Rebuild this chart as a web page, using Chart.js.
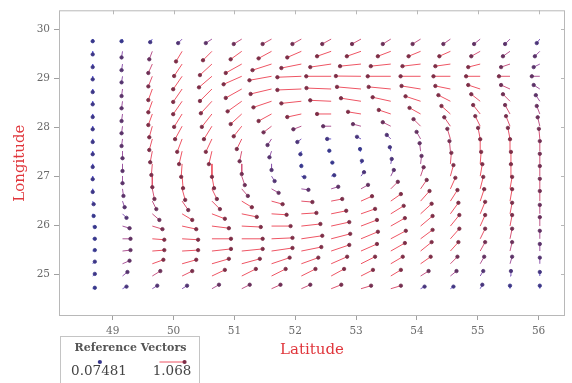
<!DOCTYPE html>
<html><head><meta charset="utf-8">
<script src="https://cdn.jsdelivr.net/npm/chart.js@4.4.1/dist/chart.umd.min.js"></script>
<style>html,body{margin:0;padding:0;background:#fff;}canvas{display:block}</style>
</head><body>
<canvas id="c" width="572" height="383"></canvas>
<script>
// ---- data ----
const lonGrid = [48.67, 49.16, 49.65, 50.14, 50.63, 51.12, 51.61, 52.10, 52.59, 53.08, 53.57, 54.06, 54.55, 55.04, 55.53, 56.02];
// rows listed from top (north) to bottom (south)
const latGrid = [29.80, 29.55, 29.29, 29.04, 28.78, 28.53, 28.27, 28.02, 27.76, 27.51, 27.25, 27.00, 26.74, 26.49, 26.23, 25.98, 25.72, 25.47, 25.21, 24.96, 24.70];
const xTicks = [49, 50, 51, 52, 53, 54, 55, 56];
const yTicks = [25, 26, 27, 28, 29, 30];
const uRows = [
 [0, -0.04, -0.09, -0.17, -0.26, -0.34, -0.38, -0.38, -0.38, -0.38, -0.34, -0.34, -0.30, -0.26, -0.21, -0.13],
 [0, -0.04, -0.13, -0.26, -0.38, -0.47, -0.55, -0.60, -0.60, -0.60, -0.55, -0.51, -0.47, -0.38, -0.30, -0.21],
 [0, -0.04, -0.17, -0.34, -0.51, -0.68, -0.81, -0.85, -0.89, -0.89, -0.85, -0.77, -0.64, -0.51, -0.38, -0.26],
 [0, -0.04, -0.17, -0.38, -0.55, -0.77, -0.94, -1.02, -1.06, -1.068, -0.98, -0.85, -0.72, -0.60, -0.47, -0.34],
 [0, -0.04, -0.17, -0.38, -0.51, -0.68, -0.89, -1.02, -1.05, -1.02, -0.94, -0.81, -0.64, -0.51, -0.38, -0.26],
 [0, -0.04, -0.17, -0.38, -0.47, -0.60, -0.77, -0.85, -0.89, -0.85, -0.77, -0.64, -0.51, -0.38, -0.30, -0.17],
 [0, -0.04, -0.17, -0.34, -0.43, -0.47, -0.55, -0.60, -0.60, -0.55, -0.51, -0.47, -0.38, -0.30, -0.21, -0.13],
 [0, -0.04, -0.13, -0.30, -0.34, -0.34, -0.34, -0.34, -0.34, -0.34, -0.34, -0.30, -0.26, -0.21, -0.17, -0.09],
 [0, -0.04, -0.13, -0.21, -0.26, -0.21, -0.17, -0.17, -0.17, -0.17, -0.17, -0.17, -0.13, -0.09, -0.09, -0.04],
 [0, 0, -0.09, -0.13, -0.13, -0.09, -0.09, -0.04, -0.08, -0.04, -0.04, -0.04, -0.04, 0, 0, 0],
 [0, 0, -0.04, -0.04, 0, 0, 0, 0, 0.05, 0.04, 0.04, 0.04, 0.04, 0.04, 0.04, 0],
 [0, 0, 0, 0.04, 0.09, 0.13, 0.13, 0.13, 0.13, 0.13, 0.13, 0.13, 0.13, 0.09, 0.04, 0],
 [0, 0.04, 0.09, 0.13, 0.21, 0.26, 0.30, 0.30, 0.30, 0.30, 0.30, 0.26, 0.21, 0.13, 0.09, 0],
 [0.04, 0.09, 0.17, 0.26, 0.34, 0.43, 0.47, 0.47, 0.47, 0.47, 0.43, 0.38, 0.30, 0.17, 0.09, 0],
 [0.04, 0.17, 0.30, 0.43, 0.55, 0.64, 0.64, 0.64, 0.64, 0.60, 0.55, 0.47, 0.34, 0.21, 0.09, 0],
 [0.09, 0.30, 0.43, 0.60, 0.72, 0.81, 0.81, 0.81, 0.77, 0.68, 0.60, 0.51, 0.38, 0.21, 0.09, 0],
 [0.09, 0.34, 0.51, 0.68, 0.81, 0.89, 0.89, 0.89, 0.81, 0.72, 0.64, 0.51, 0.38, 0.21, 0.09, 0],
 [0.09, 0.34, 0.51, 0.68, 0.81, 0.89, 0.89, 0.85, 0.77, 0.68, 0.60, 0.47, 0.34, 0.21, 0.09, 0],
 [0.09, 0.30, 0.47, 0.60, 0.72, 0.77, 0.77, 0.72, 0.68, 0.60, 0.51, 0.43, 0.30, 0.17, 0.09, 0],
 [0.09, 0.21, 0.34, 0.43, 0.55, 0.60, 0.60, 0.60, 0.55, 0.51, 0.43, 0.34, 0.26, 0.13, 0.04, 0],
 [0.09, 0.17, 0.21, 0.21, 0.30, 0.34, 0.38, 0.38, 0.43, 0.43, 0.43, 0.17, 0.13, 0.09, 0, 0]
];
const vRows = [
 [-0.09, -0.09, -0.13, -0.17, -0.17, -0.21, -0.21, -0.21, -0.21, -0.21, -0.21, -0.21, -0.21, -0.21, -0.21, -0.17],
 [-0.13, -0.26, -0.34, -0.43, -0.38, -0.34, -0.30, -0.26, -0.21, -0.21, -0.21, -0.21, -0.21, -0.21, -0.21, -0.21],
 [-0.13, -0.26, -0.38, -0.51, -0.47, -0.38, -0.26, -0.17, -0.13, -0.09, -0.09, -0.09, -0.09, -0.13, -0.13, -0.13],
 [-0.13, -0.26, -0.43, -0.55, -0.47, -0.34, -0.17, -0.04, 0, 0.01, 0, 0, 0, 0, 0, 0],
 [-0.13, -0.30, -0.47, -0.55, -0.51, -0.38, -0.21, -0.04, 0.04, 0.09, 0.09, 0.13, 0.13, 0.17, 0.17, 0.17],
 [-0.13, -0.30, -0.47, -0.55, -0.51, -0.43, -0.26, -0.09, 0.04, 0.13, 0.17, 0.21, 0.26, 0.30, 0.30, 0.26],
 [-0.13, -0.30, -0.47, -0.55, -0.55, -0.43, -0.30, -0.13, 0, 0.09, 0.17, 0.26, 0.34, 0.38, 0.38, 0.34],
 [-0.13, -0.30, -0.47, -0.55, -0.55, -0.43, -0.26, -0.13, 0, 0.09, 0.17, 0.30, 0.38, 0.43, 0.43, 0.38],
 [-0.13, -0.30, -0.47, -0.55, -0.55, -0.43, -0.26, -0.13, 0, 0.09, 0.17, 0.30, 0.43, 0.47, 0.47, 0.43],
 [-0.13, -0.30, -0.47, -0.55, -0.55, -0.43, -0.26, -0.13, 0.02, 0.09, 0.17, 0.34, 0.43, 0.51, 0.51, 0.43],
 [-0.13, -0.30, -0.47, -0.55, -0.55, -0.43, -0.26, -0.09, 0.055, 0.13, 0.21, 0.34, 0.47, 0.51, 0.51, 0.43],
 [-0.13, -0.30, -0.47, -0.51, -0.51, -0.38, -0.21, -0.04, 0.04, 0.17, 0.26, 0.38, 0.47, 0.51, 0.51, 0.43],
 [-0.13, -0.30, -0.43, -0.47, -0.43, -0.30, -0.17, -0.04, 0.09, 0.17, 0.30, 0.38, 0.47, 0.51, 0.51, 0.43],
 [-0.13, -0.26, -0.34, -0.38, -0.34, -0.26, -0.13, -0.04, 0.09, 0.21, 0.30, 0.43, 0.47, 0.51, 0.51, 0.43],
 [-0.09, -0.17, -0.26, -0.26, -0.21, -0.13, -0.04, 0.04, 0.13, 0.21, 0.34, 0.43, 0.47, 0.51, 0.47, 0.38],
 [-0.04, -0.09, -0.13, -0.13, -0.09, -0.04, 0, 0.09, 0.17, 0.26, 0.34, 0.43, 0.47, 0.47, 0.47, 0.38],
 [0, 0, -0.04, -0.04, 0, 0, 0.04, 0.13, 0.21, 0.30, 0.34, 0.38, 0.43, 0.43, 0.43, 0.34],
 [0.04, 0.04, 0.04, 0.04, 0.09, 0.09, 0.13, 0.17, 0.26, 0.30, 0.34, 0.38, 0.38, 0.38, 0.38, 0.30],
 [0.09, 0.13, 0.17, 0.17, 0.21, 0.21, 0.26, 0.26, 0.30, 0.30, 0.30, 0.30, 0.30, 0.30, 0.30, 0.26],
 [0.09, 0.17, 0.21, 0.21, 0.26, 0.30, 0.30, 0.30, 0.30, 0.26, 0.26, 0.21, 0.21, 0.21, 0.21, 0.17],
 [0.04, 0.09, 0.13, 0.13, 0.17, 0.17, 0.17, 0.17, 0.17, 0.13, 0.13, 0.09, 0.09, 0.17, 0.13, 0.13]
];
const refValues = [0.07481, 1.068];
const refLabels = ['0.07481', '1.068'];
const xTitle = 'Latitude';
const yTitle = 'Longitude';
const refTitle = 'Reference Vectors';

// ---- style ----
const VEC_PX = 23.5;          // pixels per unit of speed
const FONT = 'DejaVu Serif';
const RED = '#e0353b';

function colorFor(m, dark) {
  const t = Math.max(0, Math.min(1, (m - 0.1) / 0.4));
  let r, g, b;
  if (dark) {
    r = 55 + (125 - 55) * t; g = 55 + (45 - 55) * t; b = 140 + (70 - 140) * t;
  } else {
    r = 80 + (238 - 80) * t; g = 90 + (85 - 90) * t; b = 225 + (100 - 225) * t;
  }
  return 'rgb(' + Math.round(r) + ',' + Math.round(g) + ',' + Math.round(b) + ')';
}

const vecMeta = [];
latGrid.forEach((lat, r) => lonGrid.forEach((lon, c) => {
  const u = uRows[r][c], v = vRows[r][c];
  vecMeta.push({ lon, lat, u, v, m: Math.hypot(u, v) });
}));
function metaAt(i) {
  const d = (typeof i === 'number') ? vecMeta[Math.floor(i / 3)] : undefined;
  return d || { m: 0 };
}

function drawArrow(ctx, x0, y0, x1, y1, m) {
  ctx.save();
  ctx.strokeStyle = colorFor(m, false);
  ctx.lineWidth = 1;
  ctx.beginPath(); ctx.moveTo(x0, y0); ctx.lineTo(x1, y1); ctx.stroke();
  ctx.fillStyle = colorFor(m, true);
  ctx.beginPath(); ctx.arc(x1, y1, 2.1, 0, Math.PI * 2); ctx.fill();
  ctx.restore();
}

const framePlugin = {
  id: 'frame',
  beforeDatasetsDraw(chart) {
    const { ctx, chartArea: a, scales: { x, y } } = chart;
    ctx.save();
    ctx.strokeStyle = '#b8b8b8'; ctx.lineWidth = 1;
    ctx.strokeRect(a.left + 0.5, a.top + 0.5, a.right - a.left - 1, a.bottom - a.top - 1);
    ctx.beginPath();
    xTicks.forEach(v => { const p = Math.round(x.getPixelForValue(v)) + 0.5; ctx.moveTo(p, a.top); ctx.lineTo(p, a.top + 4); });
    yTicks.forEach(v => { const p = Math.round(y.getPixelForValue(v)) + 0.5; ctx.moveTo(a.right, p); ctx.lineTo(a.right - 4, p); });
    ctx.stroke();
    ctx.restore();
  },
  afterDraw(chart) {
    const ctx = chart.ctx;
    const a = chart.chartArea;
    const bx = a.left + 1, by = 336, bw = 139, bh = 52;
    ctx.save();
    ctx.strokeStyle = '#c4c4c4'; ctx.lineWidth = 1;
    ctx.strokeRect(bx + 0.5, by + 0.5, bw, bh);
    ctx.fillStyle = '#555';
    ctx.textAlign = 'center'; ctx.textBaseline = 'middle';
    ctx.font = 'bold 11px ' + FONT;
    ctx.fillText(refTitle, bx + bw / 2 + 1, by + 12);
    const cx = [bx + 39, bx + 112];
    refValues.forEach((val, i) => {
      ctx.font = '13.5px ' + FONT;
      ctx.fillStyle = '#444';
      ctx.fillText(refLabels[i], cx[i], by + 35);
      const len = val * VEC_PX;
      drawArrow(ctx, cx[i] - len / 2, by + 26, cx[i] + len / 2, by + 26, val);
    });
    ctx.restore();
  }
};

const cfg = {
  type: 'scatter',
  data: { datasets: [{
    data: [],
    showLine: true,
    spanGaps: false,
    borderWidth: 1,
    borderColor: '#e05060',
    segment: { borderColor: c => colorFor(metaAt(c.p0DataIndex).m, false) },
    pointStyle: 'circle',
    pointRadius: c => (c.dataIndex % 3 === 1 ? 1.7 : 0),
    pointBackgroundColor: c => colorFor(metaAt(c.dataIndex).m, true),
    pointBorderColor: c => colorFor(metaAt(c.dataIndex).m, true),
    pointBorderWidth: 0.8
  }] },
  options: {
    responsive: false,
    animation: false,
    events: [],
    devicePixelRatio: 1,
    layout: { padding: { top: 10, right: 7, left: 0, bottom: 0 } },
    plugins: { legend: { display: false }, tooltip: { enabled: false } },
    scales: {
      x: {
        type: 'linear', min: 48.116, max: 56.434,
        afterBuildTicks: s => { s.ticks = xTicks.map(v => ({ value: v })); },
        afterFit: s => { s.height = 67; },
        grid: { drawOnChartArea: false, drawTicks: true, tickLength: 4, tickColor: '#a0a0a0' },
        border: { display: false },
        ticks: { color: '#6a6a6a', padding: 5, font: { family: FONT, size: 10.5 } },
        title: { display: true, text: xTitle, color: RED, font: { family: FONT, size: 15 }, padding: { top: 0, bottom: 24 } }
      },
      y: {
        type: 'linear', min: 24.143, max: 30.388,
        afterBuildTicks: s => { s.ticks = yTicks.map(v => ({ value: v })); },
        afterFit: s => { s.width = 59; },
        grid: { drawOnChartArea: false, drawTicks: true, tickLength: 5, tickColor: '#a0a0a0' },
        border: { display: false },
        ticks: { color: '#6a6a6a', padding: 4, font: { family: FONT, size: 10.5 } },
        title: { display: true, text: yTitle, color: RED, font: { family: FONT, size: 15 }, padding: { top: 11, bottom: 0 } }
      }
    }
  },
  plugins: [framePlugin]
};

const chart = new Chart(document.getElementById('c'), cfg);
const sx = chart.scales.x, sy = chart.scales.y;
const pts = [];
vecMeta.forEach(d => {
  const hx = sx.getValueForPixel(sx.getPixelForValue(d.lon) + d.u * VEC_PX);
  const hy = sy.getValueForPixel(sy.getPixelForValue(d.lat) - d.v * VEC_PX);
  pts.push({ x: d.lon, y: d.lat }, { x: hx, y: hy }, { x: hx, y: null });
});
chart.data.datasets[0].data = pts;
chart.update('none');
</script>
</body></html>
